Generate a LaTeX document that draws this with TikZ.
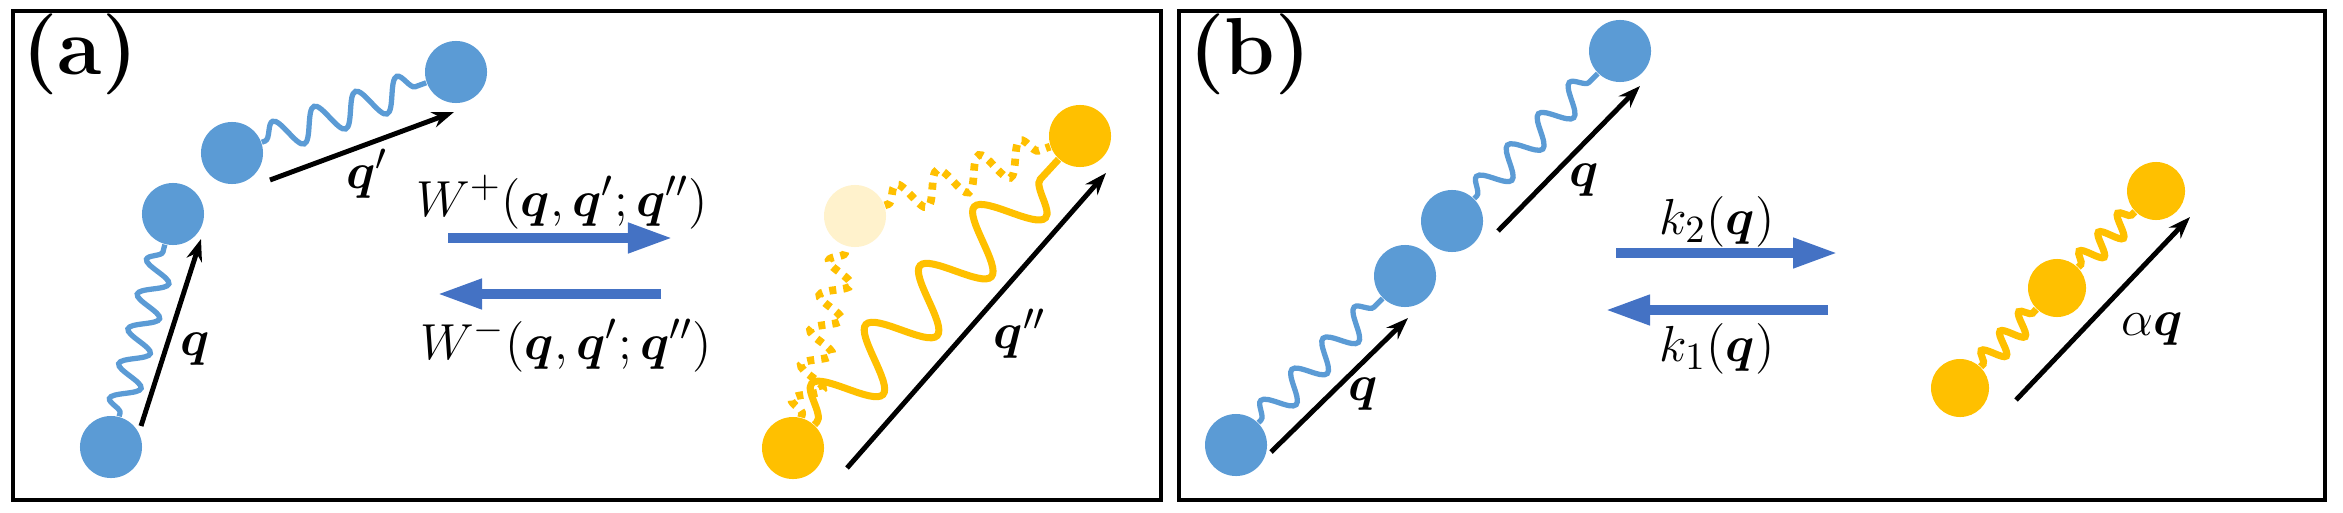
\documentclass[tikz,border=0pt]{standalone}
\usepackage{amsmath,bm}
\usetikzlibrary{arrows.meta,decorations.pathmorphing}
\definecolor{bead}{HTML}{5B9BD5}
\definecolor{fat}{HTML}{4472C4}
\definecolor{gold}{HTML}{FFC000}
\definecolor{ghost}{HTML}{FFF2CC}
\begin{document}
\begin{tikzpicture}[x=0.01cm,y=-0.01cm,
  bb/.style={circle,fill=bead,minimum size=0.62cm,inner sep=0},
  yb/.style={circle,fill=gold,minimum size=0.62cm,inner sep=0},
  spr/.style={decorate,decoration={snake,segment length=#1,amplitude=0.14cm,pre length=1pt,post length=1pt}},
  bspr/.style={spr=#1,draw=bead,line width=1.5pt},
  yspr/.style={spr=#1,draw=gold,line width=2pt},
  vec/.style={-{Stealth[length=0.22cm,width=0.16cm]},line width=1.4pt},
  fatar/.style={-{Triangle[length=0.45cm,width=0.28cm]},draw=fat,line width=0.1cm},
  lab/.style={font=\fontsize{15}{18}\selectfont},
  panel/.style={font=\fontsize{23}{26}\selectfont\bfseries}]
\useasboundingbox (0,0) rectangle (2343,512);
\draw[line width=1.3pt] (13,11) rectangle (1161,500);
\draw[line width=1.3pt] (1179,11) rectangle (2325,500);
\node[panel] (la) at (80,54) {(a)};
\node[panel] (lb) at (1250,54) {(b)};
% panel a
\node[bb] (A1) at (111,447) {};
\node[bb] (A2) at (173,214) {};
\node[bb] (A3) at (232,153) {};
\node[bb] (A4) at (456,72) {};
\draw[bspr=0.36cm] (A1) -- (A2);
\draw[bspr=0.44cm,decoration={amplitude=0.16cm}] (A3) -- (A4);
\node[yb] (Y1) at (793,448) {};
\node[circle,fill=ghost,minimum size=0.62cm,inner sep=0] (YG) at (855,216) {};
\node[yb] (Y2) at (1080,136) {};
\draw[yspr=0.8cm,decoration={amplitude=0.3cm}] (Y1) -- (Y2);
\draw[yspr=0.36cm,dotted,line width=2.2pt] (Y1) -- (YG);
\draw[yspr=0.44cm,dotted,line width=2.2pt,decoration={amplitude=0.16cm}] (YG) -- (Y2);
\coordinate (qa1) at (141,426); \coordinate (qa2) at (201,239);
\draw[vec] (qa1) -- (qa2);
\node[lab] (lq) at (195,349) {$\bm q$};
\coordinate (qb1) at (270,180); \coordinate (qb2) at (454,112);
\draw[vec] (qb1) -- (qb2);
\node[lab] (lqp) at (367,174) {$\bm q'$};
\coordinate (qc1) at (847,468); \coordinate (qc2) at (1106,173);
\draw[vec] (qc1) -- (qc2);
\node[lab] (lqpp) at (1020,334) {$\bm q''$};
\coordinate (f1) at (448,238); \coordinate (f2) at (673,238);
\draw[fatar] (f1) -- (f2);
\coordinate (g1) at (661,294); \coordinate (g2) at (437,294);
\draw[fatar] (g1) -- (g2);
\node[lab] (wp) at (562,202) {$W^{+}(\bm q,\bm q';\bm q'')$};
\node[lab] (wm) at (566,345) {$W^{-}(\bm q,\bm q';\bm q'')$};
% panel b
\node[bb] (B1) at (1236,445) {};
\node[bb] (B2) at (1405,276) {};
\node[bb] (B3) at (1452,221) {};
\node[bb] (B4) at (1620,51) {};
\draw[bspr=0.44cm] (B1) -- (B2);
\draw[bspr=0.44cm] (B3) -- (B4);
\coordinate (r1) at (1271,452); \coordinate (r2) at (1408,318);
\draw[vec] (r1) -- (r2);
\node[lab] (lbq1) at (1363,394) {$\bm q$};
\coordinate (s1) at (1498,231); \coordinate (s2) at (1640,86);
\draw[vec] (s1) -- (s2);
\node[lab] (lbq2) at (1584,180) {$\bm q$};
\coordinate (h1) at (1616,253); \coordinate (h2) at (1838,253);
\draw[fatar] (h1) -- (h2);
\coordinate (i1) at (1828,310); \coordinate (i2) at (1605,310);
\draw[fatar] (i1) -- (i2);
\node[lab] (k2) at (1717,222) {$k_2(\bm q)$};
\node[lab] (k1) at (1717,349) {$k_1(\bm q)$};
\node[yb,minimum size=0.58cm] (C1) at (1960,388) {};
\node[yb,minimum size=0.58cm] (C2) at (2057,288) {};
\node[yb,minimum size=0.58cm] (C3) at (2156,191) {};
\draw[yspr=0.27cm,decoration={amplitude=0.11cm}] (C1) -- (C2);
\draw[yspr=0.27cm,decoration={amplitude=0.11cm}] (C2) -- (C3);
\coordinate (t1) at (2016,400); \coordinate (t2) at (2190,217);
\draw[vec] (t1) -- (t2);
\node[lab] (laq) at (2152,329) {$\alpha\bm q$};
\end{tikzpicture}
\end{document}
